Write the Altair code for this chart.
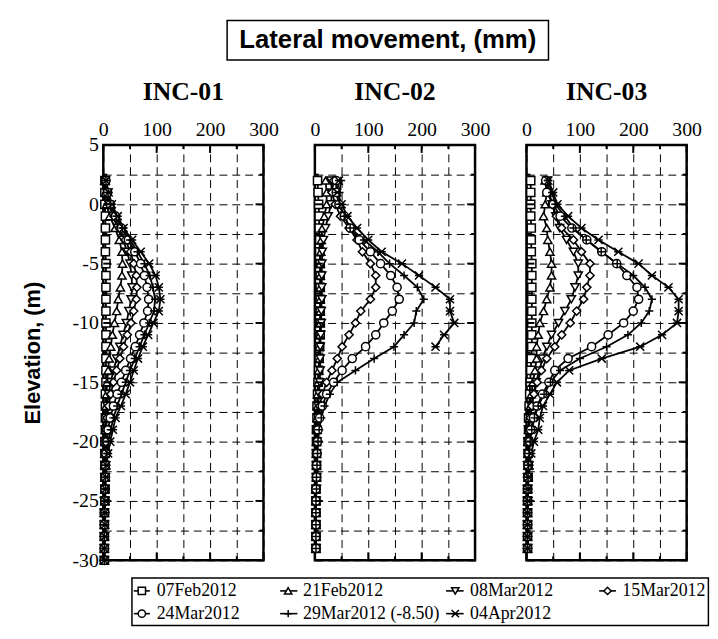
import altair as alt
import pandas as pd

SERIF = "Liberation Serif"
SANS = "Liberation Sans"

TITLE = "Lateral movement, (mm)"
PANELS = ["INC-01", "INC-02", "INC-03"]
SERIES = ["07Feb2012", "21Feb2012", "08Mar2012", "15Mar2012",
          "24Mar2012", "29Mar2012 (-8.50)", "04Apr2012"]
SHAPES = ["square", "triangle-up", "triangle-down", "diamond", "circle",
          "M-1,0L1,0M0,-1L0,1", "M-1,-1L1,1M-1,1L1,-1M-1,0L1,0"]

X_TICKS = [0, 50, 100, 150, 200, 250, 300]
Y_TICKS = [5, 2.5, 0, -2.5, -5, -7.5, -10, -12.5, -15, -17.5, -20,
           -22.5, -25, -27.5, -30]

# elevations (m) of the readings
ELEV_01 = [2, 1, 0, -1, -2, -3, -4, -5, -6, -7, -8, -9, -10, -11, -12, -13,
           -14, -15, -16, -17, -18, -19, -20, -21, -22, -23, -24, -25, -26,
           -27, -28, -29, -30]
ELEV_02 = ELEV_01[:-1]
ELEV_03 = ELEV_01[:-1]

# INC-01 lateral movement (mm)
INC01_07FEB = [3, 3, 3, 4, 4, 4, 4, 5, 5, 5, 5, 5, 5, 5, 5, 5, 5, 5, 4, 4, 4, 4, 3, 3, 3, 3, 3, 3, 2, 2, 2, 2, 2]
INC01_21FEB = [3, 4, 6, 12, 22, 30, 35, 36, 35, 32, 28, 25, 21, 17, 14, 11, 9, 7, 6, 5, 5, 4, 4, 3, 3, 3, 3, 3, 2, 2, 2, 2, 2]
INC01_08MAR = [4, 6, 10, 18, 27, 37, 45, 50, 53, 54, 52, 48, 43, 37, 31, 25, 19, 14, 10, 7, 5, 4, 4, 3, 3, 3, 3, 2, 2, 2, 2, 2, 2]
INC01_15MAR = [4, 7, 11, 20, 30, 41, 51, 57, 62, 63, 62, 57, 52, 45, 38, 31, 25, 19, 14, 10, 7, 5, 4, 4, 3, 3, 3, 3, 2, 2, 2, 2, 2]
INC01_24MAR = [5, 8, 13, 23, 34, 47, 59, 70, 77, 82, 85, 83, 76, 68, 60, 51, 42, 34, 26, 19, 13, 9, 7, 5, 4, 4, 3, 3, 3, 2, 2, 2, 2]
INC01_29MAR = [5, 9, 14, 25, 36, 50, 64, 77, 87, 93, 97, 95, 86, 77, 68, 59, 50, 42, 34, 26, 19, 14, 10, 7, 5, 4, 4, 3, 3, 3, 2, 2, 2]
INC01_04APR = [5, 10, 16, 27, 38, 54, 70, 86, 98, 104, 107, 104, 94, 84, 74, 65, 57, 50, 42, 33, 23, 18, 13, 9, 6, 5, 4, 4, 3, 3, 3, 2, 2]

# INC-02 lateral movement (mm)
INC02_07FEB = [5, 6, 7, 8, 8, 9, 9, 10, 10, 10, 10, 10, 10, 10, 9, 8, 7, 6, 5, 4, 4, 3, 3, 3, 3, 3, 2, 2, 2, 2, 2, 2]
INC02_21FEB = [20, 22, 22, 18, 14, 12, 11, 10, 10, 10, 10, 10, 10, 9, 8, 8, 7, 6, 5, 5, 4, 4, 3, 3, 3, 3, 2, 2, 2, 2, 2, 2]
INC02_08MAR = [30, 32, 30, 25, 20, 16, 14, 13, 13, 13, 13, 12, 12, 11, 10, 10, 10, 9, 8, 6, 5, 4, 4, 3, 3, 3, 3, 2, 2, 2, 2, 2]
INC02_15MAR = [35, 32, 38, 48, 64, 79, 89, 104, 114, 114, 104, 86, 76, 64, 51, 42, 32, 22, 14, 9, 7, 5, 4, 3, 3, 3, 2, 2, 2, 2, 2, 2]
INC02_24MAR = [40, 40, 45, 55, 66, 83, 104, 123, 142, 154, 158, 145, 129, 114, 95, 70, 51, 35, 22, 14, 9, 6, 5, 4, 3, 3, 2, 2, 2, 2, 2, 2]
INC02_29MAR = [49, 46, 46, 55, 66, 92, 118, 140, 167, 192, 204, 190, 186, 167, 148, 111, 76, 42, 28, 18, 12, 8, 6, 5, 4, 3, 3, 2, 2, 2, 2, 2]
INC02_04APR = [45, 42, 50, 61, 79, 100, 125, 163, 195, 226, 253, 253, 261, 242, 226]

# INC-03 lateral movement (mm)
INC03_07FEB = [8, 8, 8, 8, 9, 9, 9, 10, 10, 10, 10, 10, 10, 10, 10, 9, 8, 7, 6, 5, 4, 4, 3, 3, 3, 3, 2, 2, 2, 2, 2, 2]
INC03_21FEB = [35, 38, 35, 32, 38, 40, 44, 47, 47, 44, 38, 32, 25, 22, 19, 19, 16, 12, 9, 7, 5, 4, 3, 3, 3, 3, 2, 2, 2, 2, 2, 2]
INC03_08MAR = [38, 42, 48, 55, 62, 75, 88, 97, 97, 91, 84, 72, 60, 47, 38, 30, 24, 18, 13, 9, 6, 4, 3, 3, 2, 2, 2, 2, 2, 2, 2, 2]
INC03_15MAR = [38, 42, 48, 56, 66, 88, 103, 119, 119, 113, 107, 94, 82, 66, 53, 38, 28, 20, 14, 10, 7, 5, 4, 3, 3, 2, 2, 2, 2, 2, 2, 2]
INC03_24MAR = [36, 38, 50, 63, 85, 113, 141, 169, 188, 207, 210, 200, 182, 153, 122, 78, 53, 42, 30, 20, 13, 8, 6, 4, 3, 3, 2, 2, 2, 2, 2, 2]
INC03_29MAR = [40, 48, 54, 72, 88, 112, 140, 170, 200, 222, 235, 230, 215, 190, 150, 100, 63, 45, 33, 22, 15, 10, 7, 5, 4, 3, 3, 2, 2, 2, 2, 2]
INC03_04APR = [41, 50, 58, 78, 103, 135, 172, 210, 235, 266, 285, 285, 282, 254, 213, 141, 80, 57, 44, 31, 25, 22, 14, 9, 6, 4, 3, 3, 2, 2, 2, 2]

DATA = {
    "INC-01": (ELEV_01, [INC01_07FEB, INC01_21FEB, INC01_08MAR, INC01_15MAR,
                         INC01_24MAR, INC01_29MAR, INC01_04APR]),
    "INC-02": (ELEV_02, [INC02_07FEB, INC02_21FEB, INC02_08MAR, INC02_15MAR,
                         INC02_24MAR, INC02_29MAR, INC02_04APR]),
    "INC-03": (ELEV_03, [INC03_07FEB, INC03_21FEB, INC03_08MAR, INC03_15MAR,
                         INC03_24MAR, INC03_29MAR, INC03_04APR]),
}

rows = []
for pname, (elevs, lists) in DATA.items():
    for s, vals in zip(SERIES, lists):
        for k, (e, v) in enumerate(zip(elevs, vals)):
            rows.append({"panel": pname, "series": s, "k": k, "elev": e, "val": v})
df = pd.DataFrame(rows)

y_major = pd.DataFrame({"elev": [v for v in Y_TICKS if v % 5 == 0]})
y_minor = pd.DataFrame({"elev": [v for v in Y_TICKS if v % 5 != 0]})
x_major = pd.DataFrame({"val": [v for v in X_TICKS if v % 100 == 0]})
x_minor = pd.DataFrame({"val": [v for v in X_TICKS if v % 100 != 0]})

W, H = 162, 420
GRID_DASH = [8, 5]
SHAPE_SCALE = alt.Scale(domain=SERIES, range=SHAPES)


def blank_axis(orient, extent):
    return alt.Axis(orient=orient, title=None, labels=False, ticks=False,
                    domain=False, grid=False, minExtent=extent)


def make_panel(i, pname):
    first = i == 0
    d = df[df.panel == pname]
    xs = alt.Scale(domain=[0, 300], nice=False, zero=False)
    ys = alt.Scale(domain=[-30, 5], nice=False, zero=False)
    X = alt.X("val:Q", scale=xs, axis=alt.Axis(
        orient="top", values=X_TICKS, title=None,
        labelExpr="datum.value % 100 == 0 ? datum.label : ''",
        labelFont=SERIF, labelFontSize=20, labelColor="black", labelPadding=6,
        ticks=False, domain=False, grid=True, gridDash=GRID_DASH,
        gridColor="black", gridWidth=1,
        labelOverlap=False, labelBound=False, labelFlush=False))
    if first:
        yaxis = alt.Axis(
            values=Y_TICKS, ticks=False, domain=False, grid=True,
            gridDash=GRID_DASH, gridColor="black", gridWidth=1,
            labelOverlap=False,
            title="Elevation, (m)", titleFont=SANS, titleFontSize=22,
            titleFontWeight="bold", titleColor="black", titlePadding=28,
            labelExpr="datum.value % 5 == 0 ? toString(datum.value) : ''",
            labelFont=SERIF, labelFontSize=20, labelColor="black", labelPadding=5,
            labelBound=False, labelFlush=False)
    else:
        yaxis = alt.Axis(
            values=Y_TICKS, ticks=False, domain=False, grid=True,
            gridDash=GRID_DASH, gridColor="black", gridWidth=1,
            labels=False, title=None)
    Y = alt.Y("elev:Q", scale=ys, axis=yaxis)

    line = alt.Chart(d).mark_line(color="black", strokeWidth=1.8).encode(
        x=X, y=Y, detail="series:N", order="k:Q")
    pts = alt.Chart(d).mark_point(
        filled=False, color="black", fill="white", strokeWidth=1.5,
        size=68, opacity=1, fillOpacity=1).encode(
        x=X, y=Y,
        shape=alt.Shape("series:N", scale=SHAPE_SCALE, legend=None))

    tk = dict(color="black", strokeWidth=2)
    ticks = [
        alt.Chart(y_major).mark_rule(**tk).encode(y=Y, x=alt.value(0), x2=alt.value(8)),
        alt.Chart(y_minor).mark_rule(**tk).encode(y=Y, x=alt.value(0), x2=alt.value(4)),
        alt.Chart(y_major).mark_rule(**tk).encode(y=Y, x=alt.value(W), x2=alt.value(W - 8)),
        alt.Chart(y_minor).mark_rule(**tk).encode(y=Y, x=alt.value(W), x2=alt.value(W - 4)),
        alt.Chart(x_major).mark_rule(**tk).encode(x=X, y=alt.value(0), y2=alt.value(8)),
        alt.Chart(x_minor).mark_rule(**tk).encode(x=X, y=alt.value(0), y2=alt.value(4)),
        alt.Chart(x_major).mark_rule(**tk).encode(x=X, y=alt.value(H), y2=alt.value(H - 8)),
        alt.Chart(x_minor).mark_rule(**tk).encode(x=X, y=alt.value(H), y2=alt.value(H - 4)),
    ]
    return alt.layer(line, pts, *ticks).properties(
        width=W, height=H,
        title=alt.TitleParams(pname, font=SERIF, fontSize=26, fontWeight="bold",
                              color="black", offset=14, anchor="middle"),
        view=alt.ViewBackground(stroke="black", strokeWidth=2.5),
    )


panels = alt.hconcat(*[make_panel(i, p) for i, p in enumerate(PANELS)],
                     spacing=52, bounds="flush").resolve_scale(shape="shared")

# title box
title_df = pd.DataFrame({"t": [TITLE]})
title_chart = alt.Chart(title_df).mark_text(
    font=SANS, fontSize=26, fontWeight="bold", color="black").encode(
    text="t:N",
    x=alt.X("t:N", axis=blank_axis("bottom", 13)),
    y=alt.Y("t:N", axis=blank_axis("right", 30)),
).properties(width=325, height=40,
             view=alt.ViewBackground(stroke="black", strokeWidth=1.5))

# legend box (4 entries per row), framed inside a wider transparent view
LW, LH = 619, 48
BOX_L, BOX_R = 36, 619
leg_base = alt.Chart(pd.DataFrame({"series": SERIES})).transform_window(
    idx="row_number()"
).transform_calculate(
    col="(datum.idx - 1) % 4",
    row="floor((datum.idx - 1) / 4)",
    c1="(datum.idx - 1) % 4 - 0.055",
    c2="(datum.idx - 1) % 4 + 0.055",
)
lx = alt.Scale(domain=[0, 1, 2, 3],
               range=[BOX_L + 10, BOX_L + 158, BOX_L + 327, BOX_L + 481],
               zero=False)
ly = alt.Scale(domain=[-0.565, 1.522], nice=False, zero=False, reverse=True)
leg_frame = alt.Chart(pd.DataFrame({"b": [0]})).mark_rect(
    fill="transparent", stroke="black", strokeWidth=1.5).encode(
    x=alt.value(BOX_L), x2=alt.value(BOX_R), y=alt.value(0), y2=alt.value(LH))
leg_rule = leg_base.mark_rule(color="black", strokeWidth=1.6).encode(
    x=alt.X("c1:Q", scale=lx, axis=None), x2="c2:Q",
    y=alt.Y("row:Q", scale=ly, axis=None))
leg_pts = leg_base.mark_point(
    filled=False, color="black", fill="white", strokeWidth=1.5, size=55,
    opacity=1, fillOpacity=1).encode(
    x=alt.X("col:Q", scale=lx, axis=None),
    y=alt.Y("row:Q", scale=ly, axis=None),
    shape=alt.Shape("series:N", scale=SHAPE_SCALE, legend=None))
leg_txt = leg_base.mark_text(
    align="left", baseline="middle", dx=15, font=SERIF, fontSize=18,
    color="black").encode(
    x=alt.X("col:Q", scale=lx, axis=None),
    y=alt.Y("row:Q", scale=ly, axis=None),
    text="series:N")
legend_chart = alt.layer(leg_frame, leg_rule, leg_pts, leg_txt).properties(
    width=LW, height=LH,
    view=alt.ViewBackground(stroke="transparent"))

chart = alt.vconcat(title_chart, panels, legend_chart, spacing=4,
                    center=True).properties(
    padding={"left": 12, "top": 8, "right": 0, "bottom": 0}
).configure(background="white")

chart.save("out.html", embed_options={"renderer": "svg", "actions": False})
